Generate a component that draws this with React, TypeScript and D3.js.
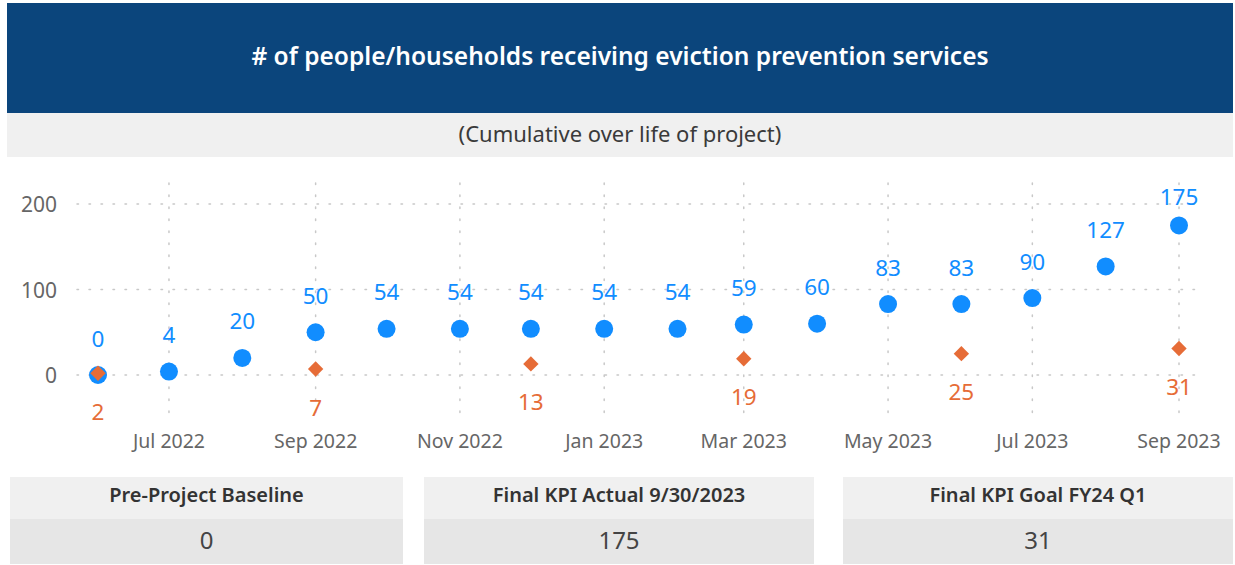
import React, { useEffect, useRef } from "react";
import * as d3 from "d3";

// monthly cumulative actuals (blue) and quarterly targets (orange)
const actualMonths = [
  "2022-06", "2022-07", "2022-08", "2022-09", "2022-10", "2022-11", "2022-12", "2023-01",
  "2023-02", "2023-03", "2023-04", "2023-05", "2023-06", "2023-07", "2023-08", "2023-09",
];
const actualValues = [0, 4, 20, 50, 54, 54, 54, 54, 54, 59, 60, 83, 83, 90, 127, 175];

const goalMonths = ["2022-06", "2022-09", "2022-12", "2023-03", "2023-06", "2023-09"];
const goalValues = [2, 7, 13, 19, 25, 31];

const yTicks = [0, 100, 200];

const cardTitles = ["Pre-Project Baseline", "Final KPI Actual 9/30/2023", "Final KPI Goal  FY24 Q1"];
const cardValues = ["0", "175", "31"];

const W = 1235;
const H = 565;
const FONT = "'Noto Sans', 'Open Sans', sans-serif";
const BLUE = "#118DFF";
const ORANGE = "#E66C37";

const parse = d3.utcParse("%Y-%m");

const App = () => {
  const svgRef = useRef<SVGSVGElement>(null);

  useEffect(() => {
    const svg = d3.select(svgRef.current);
    svg.selectAll("*").remove();

    // header
    svg.append("rect").attr("x", 7).attr("y", 3).attr("width", 1226).attr("height", 110).attr("fill", "#0B457C");
    svg.append("text")
      .attr("x", 620).attr("y", 55)
      .attr("text-anchor", "middle").attr("dominant-baseline", "central")
      .style("font-family", FONT).style("font-size", "24.5px").style("font-weight", 600)
      .style("fill", "#fff")
      .text("# of people/households receiving eviction prevention services");

    svg.append("rect").attr("x", 7).attr("y", 113).attr("width", 1226).attr("height", 44).attr("fill", "#F0F0F0");
    svg.append("text")
      .attr("x", 620).attr("y", 133)
      .attr("text-anchor", "middle").attr("dominant-baseline", "central")
      .style("font-family", FONT).style("font-size", "22px")
      .style("fill", "#3a3a3a")
      .text("(Cumulative over life of project)");

    const x = d3.scaleUtc()
      .domain([parse("2022-06")!, parse("2023-09")!])
      .range([98, 1179]);
    const y = d3.scaleLinear().domain([0, 200]).range([375, 204]);

    const g = svg.append("g");

    // gridlines
    g.selectAll(".hgrid").data(yTicks).join("line")
      .attr("x1", 77).attr("x2", 1198)
      .attr("y1", (d) => y(d)).attr("y2", (d) => y(d))
      .attr("stroke", "#c8c8c8").attr("stroke-width", 1.5)
      .attr("stroke-dasharray", "1.5,10.5").attr("stroke-linecap", "round");

    const xTicks = x.ticks(d3.utcMonth.every(2)!).filter((d) => d.getUTCMonth() % 2 === 0);
    g.selectAll(".vgrid").data(xTicks).join("line")
      .attr("x1", (d) => x(d)).attr("x2", (d) => x(d))
      .attr("y1", 183).attr("y2", 418)
      .attr("stroke", "#c8c8c8").attr("stroke-width", 1.5)
      .attr("stroke-dasharray", "1.5,10.5").attr("stroke-linecap", "round");

    // axes labels
    g.selectAll(".ylab").data(yTicks).join("text")
      .attr("x", 57).attr("y", (d) => y(d))
      .attr("text-anchor", "end").attr("dominant-baseline", "central")
      .style("font-family", FONT).style("font-size", "21px").style("fill", "#666")
      .text((d) => d);

    g.selectAll(".xlab").data(xTicks).join("text")
      .attr("x", (d) => x(d)).attr("y", 440)
      .attr("text-anchor", "middle").attr("dominant-baseline", "central")
      .style("font-family", FONT).style("font-size", "19.5px").style("fill", "#666")
      .text((d) => d3.utcFormat("%b %Y")(d));

    const actual = actualMonths.map((m, i) => ({ date: parse(m)!, value: actualValues[i] }));
    const goal = goalMonths.map((m, i) => ({ date: parse(m)!, value: goalValues[i] }));

    // blue dots
    g.selectAll(".dot").data(actual).join("circle")
      .attr("cx", (d) => x(d.date)).attr("cy", (d) => y(d.value))
      .attr("r", 9).attr("fill", BLUE);

    g.selectAll(".dlab").data(actual).join("text")
      .attr("x", (d) => x(d.date)).attr("y", (d) => Math.max(196, y(d.value) - 37))
      .attr("text-anchor", "middle").attr("dominant-baseline", "central")
      .style("font-family", FONT).style("font-size", "22.5px").style("fill", BLUE)
      .text((d) => d.value);

    // orange diamonds
    const diamond = d3.symbol().type(d3.symbolDiamond2).size(150);
    g.selectAll(".dia").data(goal).join("path")
      .attr("transform", (d) => `translate(${x(d.date)},${y(d.value)})`)
      .attr("d", diamond)
      .attr("fill", ORANGE);

    g.selectAll(".glab").data(goal).join("text")
      .attr("x", (d) => x(d.date)).attr("y", (d) => y(d.value) + 38)
      .attr("text-anchor", "middle").attr("dominant-baseline", "central")
      .style("font-family", FONT).style("font-size", "22.5px").style("fill", ORANGE)
      .text((d) => d.value);

    // KPI cards
    const cardX = [10, 424, 843];
    const cardW = [393, 390, 390];
    cardTitles.forEach((t, i) => {
      svg.append("rect").attr("x", cardX[i]).attr("y", 477).attr("width", cardW[i]).attr("height", 42).attr("fill", "#F0F0F0");
      svg.append("rect").attr("x", cardX[i]).attr("y", 519).attr("width", cardW[i]).attr("height", 45).attr("fill", "#E6E6E6");
      svg.append("text")
        .attr("x", cardX[i] + cardW[i] / 2).attr("y", 494)
        .attr("text-anchor", "middle").attr("dominant-baseline", "central")
        .style("font-family", FONT).style("font-size", "20px").style("font-weight", 600)
        .style("fill", "#333")
        .text(t);
      svg.append("text")
        .attr("x", cardX[i] + cardW[i] / 2).attr("y", 539)
        .attr("text-anchor", "middle").attr("dominant-baseline", "central")
        .style("font-family", FONT).style("font-size", "24px")
        .style("fill", "#444")
        .text(cardValues[i]);
    });
  }, []);

  return (
    <div style={{ position: "absolute", left: 0, top: 0 }}>
      <svg ref={svgRef} width={W} height={H} style={{ display: "block", background: "#fff" }} />
    </div>
  );
};

export default App;
